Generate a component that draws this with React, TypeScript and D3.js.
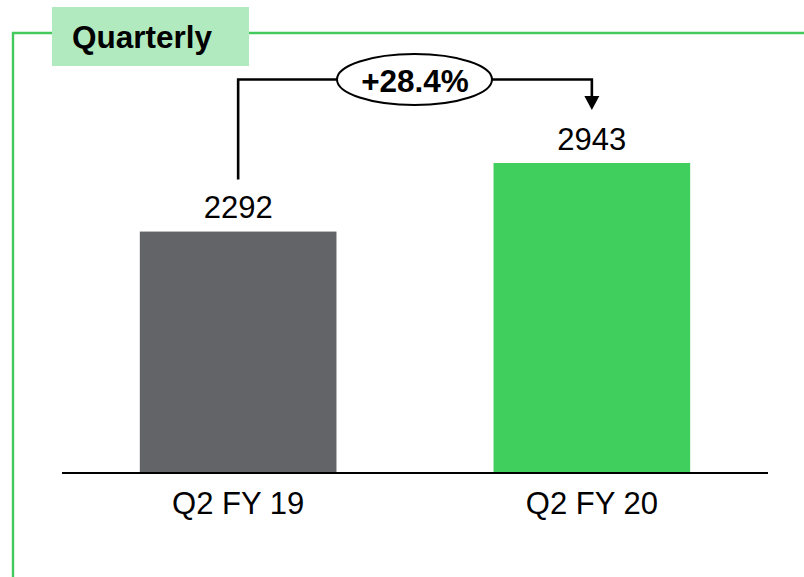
import React from "react";
import * as d3 from "d3";

const categories = ["Q2 FY 19", "Q2 FY 20"];
const values = [2292, 2943];
const barColors = ["#636468", "#40ce5c"];
const panelTitle = "Quarterly";

const W = 804;
const H = 577;
const FONT = "'Liberation Sans', Arial, Helvetica, sans-serif";

export default function App() {
  const x = d3
    .scaleBand<string>()
    .domain(categories)
    .range([62, 768])
    .paddingInner(0.444)
    .paddingOuter(0.22);
  const y = d3.scaleLinear().domain([0, 3000]).range([473, 157]);

  const bw = x.bandwidth();
  const c0 = (x(categories[0]) ?? 0) + bw / 2;
  const c1 = (x(categories[1]) ?? 0) + bw / 2;
  const pct = (values[1] / values[0] - 1) * 100;
  const pctLabel = (pct >= 0 ? "+" : "") + pct.toFixed(1) + "%";

  const lineY = 79.5;
  const startY = y(values[0]) - 52;
  const tipY = y(values[1]) - 53;
  const ex = (c0 + c1) / 2 - 0.5;
  const ey = 79.5;

  return (
    <svg
      width={W}
      height={H}
      style={{ position: "absolute", left: 0, top: 0, background: "#fff" }}
    >
      {/* green frame */}
      <path
        d={`M13,${H} V33 H${W}`}
        fill="none"
        stroke="#43c95c"
        strokeWidth={2.4}
      />
      <rect x={52} y={7} width={197} height={59} fill="#b2eabf" />
      <text
        x={72}
        y={47.5}
        fontFamily={FONT}
        fontWeight="bold"
        fontSize={31.5}
        fill="#000"
      >
        {panelTitle}
      </text>

      {/* bars */}
      {categories.map((c, i) => (
        <rect
          key={c}
          x={x(c)}
          y={y(values[i])}
          width={bw}
          height={y(0) - y(values[i])}
          fill={barColors[i]}
        />
      ))}

      {/* baseline */}
      <line x1={62} x2={768} y1={y(0)} y2={y(0)} stroke="#000" strokeWidth={2.2} />

      {/* value labels */}
      {categories.map((c, i) => (
        <text
          key={c + "v"}
          x={(x(c) ?? 0) + bw / 2}
          y={y(values[i]) - 13.5}
          textAnchor="middle"
          fontFamily={FONT}
          fontSize={31}
          fill="#000"
        >
          {values[i]}
        </text>
      ))}

      {/* category labels */}
      {categories.map((c) => (
        <text
          key={c + "c"}
          x={(x(c) ?? 0) + bw / 2}
          y={514}
          textAnchor="middle"
          fontFamily={FONT}
          fontSize={31}
          fill="#000"
        >
          {c}
        </text>
      ))}

      {/* growth annotation */}
      <path
        d={`M${c0},${startY} V${lineY} H${c1} V${tipY - 13}`}
        fill="none"
        stroke="#000"
        strokeWidth={2.6}
      />
      <path
        d={`M${c1 - 7.5},${tipY - 14} L${c1 + 7.5},${tipY - 14} L${c1},${tipY} Z`}
        fill="#000"
      />
      <ellipse cx={ex} cy={ey} rx={77.5} ry={25.5} fill="#fff" stroke="#000" strokeWidth={2} />
      <text
        x={ex + 0.5}
        y={92}
        textAnchor="middle"
        fontFamily={FONT}
        fontWeight="bold"
        fontSize={31.5}
        fill="#000"
      >
        {pctLabel}
      </text>
    </svg>
  );
}
